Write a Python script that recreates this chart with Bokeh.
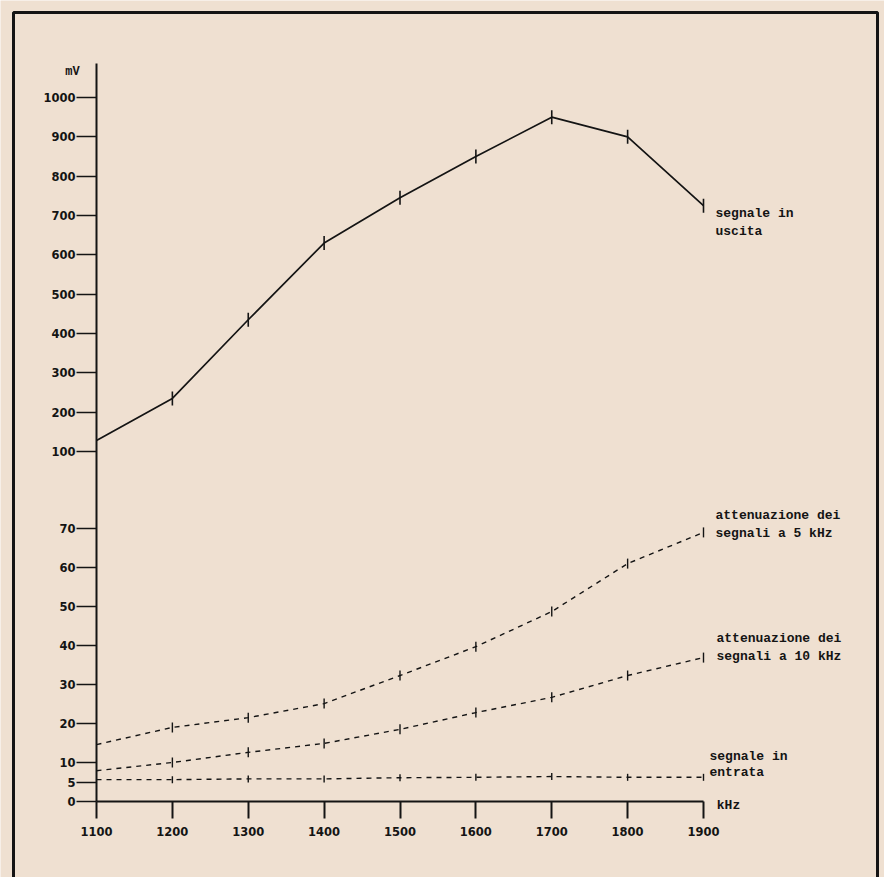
import numpy as np
from bokeh.plotting import figure
from bokeh.models import FixedTicker, BoxAnnotation, Label, Range1d
from bokeh.core.properties import value
from bokeh.embed import file_html
from bokeh.resources import INLINE

# ---------------- data ----------------
freq_khz = [1100, 1200, 1300, 1400, 1500, 1600, 1700, 1800, 1900]
out_mv = [128, 235, 435, 630, 745, 850, 950, 900, 725]          # segnale in uscita
att5_mv = [14.6, 19.0, 21.5, 25.1, 32.3, 39.7, 48.7, 61.0, 69.0]  # attenuazione 5 kHz
att10_mv = [7.9, 10.0, 12.6, 14.9, 18.5, 22.8, 26.7, 32.3, 36.9]  # attenuazione 10 kHz
in_mv = [5.6, 5.6, 5.8, 5.8, 6.1, 6.2, 6.4, 6.2, 6.2]            # segnale in entrata

x_tick_vals = [1100, 1200, 1300, 1400, 1500, 1600, 1700, 1800, 1900]
y_tick_vals = [0, 5, 10, 20, 30, 40, 50, 60, 70,
               100, 200, 300, 400, 500, 600, 700, 800, 900, 1000]

label_uscita = ["segnale in", "uscita"]
label_att5 = ["attenuazione dei", "segnali a 5 kHz"]
label_att10 = ["attenuazione dei", "segnali a 10 kHz"]
label_entrata = ["segnale in", "entrata"]

# ---------------- broken (two-scale) y axis ----------------
LOW_TOP = 70.0
POS_100 = 89.74
UPPER_SLOPE = 0.10085


def ypos(v):
    v = np.asarray(v, dtype=float)
    return np.where(v <= LOW_TOP, v, POS_100 + (v - 100.0) * UPPER_SLOPE)


W, H = 884, 877
PX_PER_UNIT = 3.9       # vertical pixels per plot unit
PX_PER_KHZ = 0.75875    # horizontal pixels per kHz
X0_PX, Y0_PX = 96, 801  # canvas position of (1100 kHz, 0 mV)


def xd(px):
    return 1100 + (px - X0_PX) / PX_PER_KHZ


def yd(py):
    return (Y0_PX - py) / PX_PER_UNIT


BG = "#efe0d1"
INK = "#141414"

p = figure(width=W, height=H, output_backend="svg", toolbar_location=None,
           x_range=Range1d(xd(0), xd(W)), y_range=Range1d(yd(H), yd(0)),
           min_border=0, min_border_left=0, min_border_right=0,
           min_border_top=0, min_border_bottom=0,
           background_fill_color=BG, border_fill_color=BG,
           outline_line_color=None)
p.grid.visible = False

# x axis (pinned at 0 mV)
xa = p.xaxis[0]
xa.fixed_location = 0
xa.ticker = FixedTicker(ticks=x_tick_vals)
xa.bounds = (1100, 1900)
xa.axis_line_width = 2
xa.axis_line_color = INK
xa.major_tick_out = 17
xa.major_tick_in = 0
xa.major_tick_line_width = 2
xa.major_tick_line_color = INK
xa.minor_tick_line_color = None
xa.major_label_standoff = 8
xa.major_label_text_font = "DejaVu Sans"
xa.major_label_text_font_style = "bold"
xa.major_label_text_font_size = "11.5px"
xa.major_label_text_color = INK

# y axis (pinned at 1100 kHz), broken scale
ya = p.yaxis[0]
ya.fixed_location = 1100
tick_pos = [float(t) for t in ypos(y_tick_vals)]
ya.ticker = FixedTicker(ticks=tick_pos)
ya.major_label_overrides = {t: str(v) for t, v in zip(tick_pos, y_tick_vals)}
ya.bounds = (0, yd(63))
ya.axis_line_width = 2
ya.axis_line_color = INK
ya.major_tick_out = 20
ya.major_tick_in = 0
ya.major_tick_line_width = 1.6
ya.major_tick_line_color = INK
ya.minor_tick_line_color = None
ya.major_label_standoff = 1
ya.major_label_text_font = "DejaVu Sans"
ya.major_label_text_font_style = "bold"
ya.major_label_text_font_size = "11.5px"
ya.major_label_text_color = INK

# ---------------- series ----------------
p.line(freq_khz, ypos(out_mv), line_color=INK, line_width=1.7)
p.scatter(freq_khz[1:], ypos(out_mv)[1:], marker="dash", angle=np.pi / 2,
          size=14, line_color=INK, line_width=1.6)

for vals, msize in ((att5_mv, 10), (att10_mv, 10), (in_mv, 7)):
    p.line(freq_khz, ypos(vals), line_color=INK, line_width=1.4, line_dash="5 5")
    p.scatter(freq_khz[1:], ypos(vals)[1:], marker="dash", angle=np.pi / 2,
              size=msize, line_color=INK, line_width=1.4)

# ---------------- end-of-series labels ----------------
MONO = value("Liberation Mono")
for lines, vals, xoff, yoffs in ((label_uscita, out_mv, 12, [8, 26]),
                                 (label_att5, att5_mv, 12, [-17, 1]),
                                 (label_att10, att10_mv, 13, [-19, -1]),
                                 (label_entrata, in_mv, 6, [-21, -5])):
    yl = float(ypos(vals[-1]))
    p.text(x=[freq_khz[-1]] * len(lines), y=[yl] * len(lines), text=lines,
           x_offset=xoff, y_offset=yoffs,
           text_font=MONO, text_font_style="bold", text_font_size="13px",
           text_color=INK, text_align="left", text_baseline="middle")

# axis unit labels
p.add_layout(Label(x=xd(72), y=yd(71), text="mV", text_font="Liberation Mono",
                   text_font_style="bold", text_font_size="12px", text_color=INK,
                   text_align="center", text_baseline="middle"))
p.add_layout(Label(x=xd(728), y=yd(805), text="kHz",
                   text_font="Liberation Mono", text_font_style="bold",
                   text_font_size="13px", text_color=INK,
                   text_align="center", text_baseline="middle"))

# page frame
p.add_layout(BoxAnnotation(left=xd(13), right=xd(877), top=yd(12), bottom=yd(H + 20),
                           fill_color=None, fill_alpha=0,
                           line_color=INK, line_alpha=1.0, line_width=3))

open("out.html", "w").write(file_html(p, INLINE))
